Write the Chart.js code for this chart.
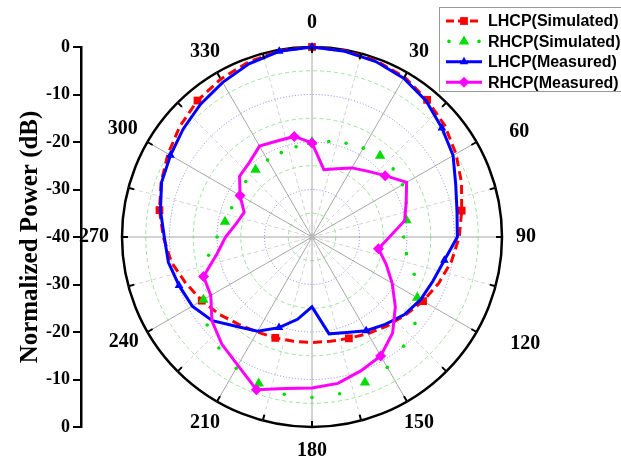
<!DOCTYPE html>
<html>
<head>
<meta charset="utf-8">
<script src="https://cdn.jsdelivr.net/npm/chart.js@4.4.1/dist/chart.umd.min.js"></script>
<style>
  html, body { margin: 0; padding: 0; background: #fff; }
  #wrap { position: relative; width: 621px; height: 459px; overflow: hidden; }
  #wrap canvas { position: absolute; left: 0; top: 0; }
</style>
</head>
<body>
<div id="wrap">
  <canvas id="polar" width="621" height="459"></canvas>
  <canvas id="axis" width="110" height="459"></canvas>
</div>
<script>
// Sample angles (deg, clockwise from top) for all four curves
const sampleAngles = [0, 10, 20, 30, 40, 50, 60, 70, 80, 90, 100, 110, 120, 130, 140, 150, 160, 170,
    180, 190, 200, 210, 220, 230, 240, 250, 260, 270, 280, 290, 300, 310, 320, 330, 340, 350];

// Normalized power in dB
const lhcpSim = [0, -0.2, -0.5, -1.1, -2.3, -3.5, -5.0, -6.5, -8.0, -9.0, -10.2, -11.6, -13.0, -14.4, -15.5, -16.5, -17.3, -17.7,
    -17.8, -17.7, -17.4, -16.9, -16.0, -14.6, -13.2, -11.7, -9.9, -8.7, -7.4, -6.2, -5.0, -3.7, -2.5, -1.6, -0.8, -0.2];
const rhcpSim = [-20.0, -19.6, -19.0, -18.4, -17.7, -17.7, -18.0, -18.9, -19.8, -20.7, -19.8, -17.1, -14.4, -11.7, -10.0, -8.3, -7.4, -6.5,
    -6.2, -6.4, -7.2, -8.1, -9.5, -11.2, -13.6, -15.8, -17.9, -20.0, -21.4, -22.0, -22.0, -21.8, -21.5, -21.3, -21.1, -20.7];
const lhcpMeas = [0, -0.3, -0.7, -1.4, -2.6, -4.3, -5.7, -7.8, -9.0, -9.4, -11.7, -12.9, -13.6, -14.6, -16.0, -17.2, -18.6, -19.3,
    -25.3, -22.4, -19.7, -17.1, -15.4, -12.6, -10.9, -10.2, -9.3, -8.9, -7.6, -6.3, -5.6, -4.6, -3.5, -2.4, -1.2, -0.3];
const rhcpMeas = [-20.2, -25.6, -24.7, -23.2, -21.9, -19.9, -17.0, -18.9, -20.2, -23.7, -25.8, -23.4, -20.5, -17.1, -13.6, -11.1, -10.0, -8.7,
    -8.2, -7.6, -5.8, -8.8, -10.5, -12.5, -15.4, -15.7, -19.7, -21.8, -23.8, -24.8, -22.5, -20.1, -19.5, -17.9, -18.5, -18.5];

const seriesNames = ['LHCP(Simulated)', 'RHCP(Simulated)', 'LHCP(Measured)', 'RHCP(Measured)'];
const angleTickLabels = ['0', '30', '60', '90', '120', '150', '180', '210', '240', '270', '300', '330'];
const powerTickLabels = ['0', '-10', '-20', '-30', '-40', '-30', '-20', '-10', '0'];

const RED = '#ff0000', GREEN = '#00dd00', BLUE = '#0000ff', MAGENTA = '#ff00ff';
const SERIF = '"Liberation Serif", "Times New Roman", serif';

// Origin puts a few angle labels off the plain radius, nudge them (px)
const labelNudge = { '60': [22, 2], '120': [28, 0], '240': [-3, -2], '270': [-4, 0], '300': [-4, -1] };

// radar categories every 5 deg, so 15 deg spokes and 10 deg samples share one grid
const gridAngles = [];
for (let a = 0; a < 360; a += 5) gridAngles.push(a);

function onGrid(values) {
    return gridAngles.map(a => {
        const k = sampleAngles.indexOf(a);
        return k >= 0 ? values[k] : null;
    });
}

// marker only every `step` degrees
const markEvery = (step, size) => ctx => (gridAngles[ctx.index] % step === 0 ? size : 0);

// rings: blue dotted every 10 dB, green dashed in between, black outer circle
function ringStyle(value) {
    if (value === 0) return { color: '#000', width: 2.5, dash: [] };
    if (value === -40) return { color: 'rgba(0,0,0,0)', width: 1, dash: [] };
    if (value % 10 === 0) return { color: '#8080ff', width: 1, dash: [1, 2] };
    return { color: '#9ce49c', width: 1, dash: [4, 3] };
}

function spokeStyle(angle) {
    if (angle % 30 === 0) return { color: '#a6a6a6', width: 1, dash: [] };
    if (angle % 15 === 0) return { color: '#d2d2d2', width: 1, dash: [4, 3] };
    return { color: 'rgba(0,0,0,0)', width: 0, dash: [] };
}

function drawMarker(ctx, style, x, y, r, color) {
    ctx.fillStyle = color;
    ctx.beginPath();
    if (style === 'rect') {
        const s = r * Math.SQRT1_2;
        ctx.rect(x - s, y - s, 2 * s, 2 * s);
    } else if (style === 'triangle') {
        ctx.moveTo(x, y - r);
        ctx.lineTo(x + r * 0.866, y + r * 0.5);
        ctx.lineTo(x - r * 0.866, y + r * 0.5);
        ctx.closePath();
    } else if (style === 'rectRot') {
        ctx.moveTo(x, y - r);
        ctx.lineTo(x + r, y);
        ctx.lineTo(x, y + r);
        ctx.lineTo(x - r, y);
        ctx.closePath();
    } else {
        ctx.arc(x, y, r, 0, Math.PI * 2);
    }
    ctx.fill();
}

// outer tick marks + angle labels
const anglePlugin = {
    id: 'angleLabels',
    afterDraw(chart) {
        const scale = chart.scales.r;
        const ctx = chart.ctx;
        const R = scale.drawingArea;
        ctx.save();
        ctx.strokeStyle = '#000';
        ctx.lineWidth = 2;
        gridAngles.forEach((a, i) => {
            if (a % 15 !== 0) return;
            const p1 = scale.getPointPosition(i, R);
            const p2 = scale.getPointPosition(i, R - 6);
            ctx.beginPath();
            ctx.moveTo(p1.x, p1.y);
            ctx.lineTo(p2.x, p2.y);
            ctx.stroke();
        });
        ctx.fillStyle = '#000';
        ctx.font = 'bold 20px ' + SERIF;
        ctx.textAlign = 'center';
        ctx.textBaseline = 'middle';
        angleTickLabels.forEach(label => {
            const i = gridAngles.indexOf(Number(label));
            const p = scale.getPointPosition(i, R + 24);
            const d = labelNudge[label] || [0, 0];
            ctx.fillText(label, p.x + d[0], p.y + d[1]);
        });
        ctx.restore();
    }
};

// Origin-style legend box in the top right corner
const legendPlugin = {
    id: 'boxLegend',
    afterDraw(chart) {
        const ctx = chart.ctx;
        const rows = [
            { dash: [8, 4], color: RED, marker: 'rect', size: 5.5, line: true },
            { dash: null, color: GREEN, marker: 'triangle', size: 6, line: false },
            { dash: [], color: BLUE, marker: 'triangle', size: 5, line: true },
            { dash: [], color: MAGENTA, marker: 'rectRot', size: 5.5, line: true }
        ];
        ctx.save();
        ctx.fillStyle = '#fff';
        ctx.fillRect(440, 8, 200, 84);
        ctx.strokeStyle = '#999';
        ctx.lineWidth = 1;
        ctx.strokeRect(439.5, 7.5, 200, 84);
        rows.forEach((row, i) => {
            const y = 21 + i * 20.4;
            if (row.line) {
                ctx.strokeStyle = row.color;
                ctx.lineWidth = 3;
                ctx.setLineDash(row.dash);
                ctx.beginPath();
                ctx.moveTo(446, y);
                ctx.lineTo(482, y);
                ctx.stroke();
                ctx.setLineDash([]);
            } else {
                drawMarker(ctx, 'circle', 449, y, 1.8, row.color);
                drawMarker(ctx, 'circle', 479, y, 1.8, row.color);
            }
            drawMarker(ctx, row.marker, 464, y, row.size, row.color);
            ctx.fillStyle = '#000';
            ctx.font = 'bold 16px "Liberation Sans", Arial, sans-serif';
            ctx.textBaseline = 'middle';
            ctx.textAlign = 'left';
            ctx.fillText(seriesNames[i], 488, y + 1);
        });
        ctx.restore();
    }
};

new Chart(document.getElementById('polar'), {
    type: 'radar',
    data: {
        labels: gridAngles.map(String),
        datasets: [
            {
                label: seriesNames[0],
                data: onGrid(lhcpSim),
                borderColor: RED,
                borderWidth: 3,
                borderDash: [9, 5],
                pointStyle: 'rect',
                pointRadius: markEvery(40, 5.5),
                pointBackgroundColor: RED,
                pointBorderWidth: 0,
                order: 4
            },
            {
                label: seriesNames[1],
                data: onGrid(rhcpSim),
                borderColor: 'rgba(0,0,0,0)',
                borderWidth: 1,
                pointStyle: ctx => (gridAngles[ctx.index] % 40 === 0 ? 'triangle' : 'circle'),
                pointRadius: ctx => (gridAngles[ctx.index] % 40 === 0 ? 6 : 1.8),
                pointBackgroundColor: GREEN,
                pointBorderWidth: 0,
                order: 3
            },
            {
                label: seriesNames[2],
                data: onGrid(lhcpMeas),
                borderColor: BLUE,
                borderWidth: 3,
                pointStyle: 'triangle',
                pointRadius: markEvery(50, 5),
                pointBackgroundColor: BLUE,
                pointBorderWidth: 0,
                order: 2
            },
            {
                label: seriesNames[3],
                data: onGrid(rhcpMeas),
                borderColor: MAGENTA,
                borderWidth: 3,
                pointStyle: 'rectRot',
                pointRadius: markEvery(50, 5.5),
                pointBackgroundColor: MAGENTA,
                pointBorderWidth: 0,
                order: 1
            }
        ]
    },
    options: {
        responsive: false,
        animation: false,
        events: [],
        layout: { padding: { left: 122, right: 119, top: 47, bottom: 32 } },
        datasets: { radar: { fill: false, tension: 0, spanGaps: true, clip: false } },
        plugins: { legend: { display: false }, tooltip: { enabled: false } },
        scales: {
            r: {
                min: -40,
                max: 0,
                startAngle: 0,
                ticks: { display: false, stepSize: 5 },
                pointLabels: { display: false },
                grid: {
                    circular: true,
                    color: ctx => ringStyle(ctx.tick.value).color,
                    lineWidth: ctx => ringStyle(ctx.tick.value).width
                },
                border: { dash: ctx => ringStyle(ctx.tick.value).dash },
                angleLines: {
                    color: ctx => spokeStyle(gridAngles[ctx.index]).color,
                    lineWidth: ctx => spokeStyle(gridAngles[ctx.index]).width,
                    borderDash: ctx => spokeStyle(gridAngles[ctx.index]).dash
                }
            }
        }
    },
    plugins: [anglePlugin, legendPlugin]
});

// left dB axis, symmetric about the centre
new Chart(document.getElementById('axis'), {
    type: 'line',
    data: { labels: [], datasets: [] },
    options: {
        responsive: false,
        animation: false,
        events: [],
        layout: { padding: { left: 0, right: 0, top: 47, bottom: 32 } },
        plugins: { legend: { display: false }, tooltip: { enabled: false } },
        scales: {
            x: { display: false },
            y: {
                min: -40,
                max: 40,
                afterFit: scale => { scale.width = 81; },
                ticks: {
                    stepSize: 10,
                    padding: 3,
                    color: '#000',
                    font: { family: SERIF, size: 18, weight: 'bold' },
                    callback: (value, index) => powerTickLabels[index]
                },
                grid: { drawOnChartArea: false, drawTicks: true, tickLength: 8, color: '#000', lineWidth: 2 },
                border: { display: true, color: '#000', width: 2.5 },
                title: {
                    display: true,
                    text: 'Normalized Power (dB)',
                    color: '#000',
                    font: { family: SERIF, size: 25, weight: 'bold' },
                    padding: { top: 16, bottom: 0 }
                }
            }
        }
    }
});
</script>
</body>
</html>
